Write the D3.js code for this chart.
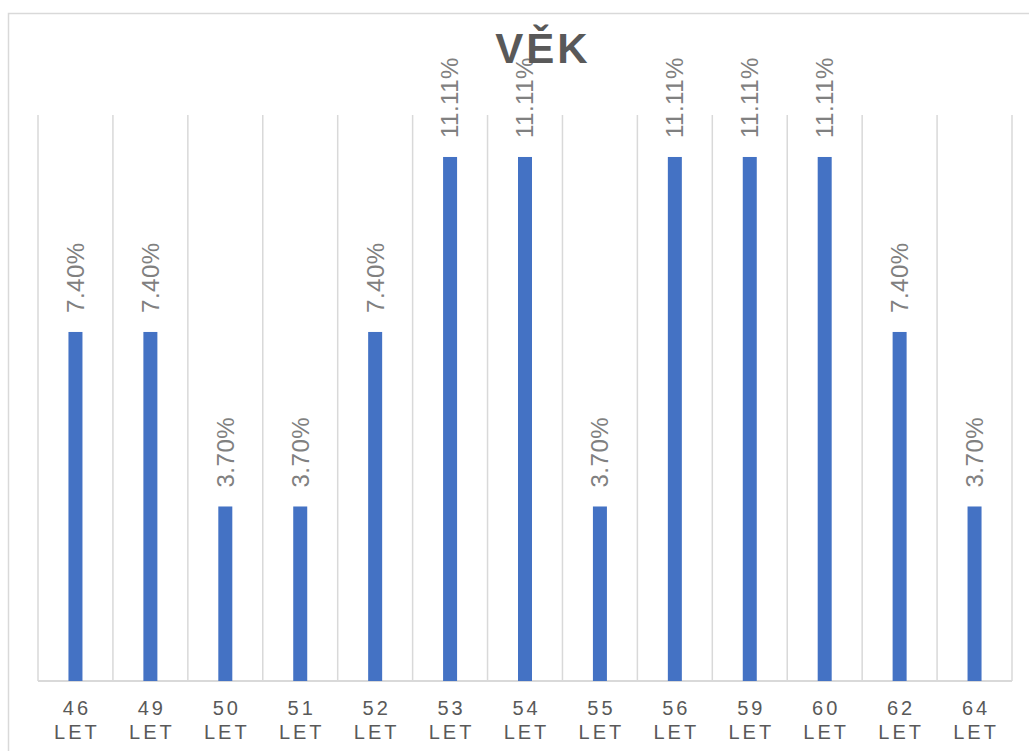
<!DOCTYPE html>
<html>
<head>
<meta charset="utf-8">
<script src="https://cdn.jsdelivr.net/npm/d3@7"></script>
<style>
  body { margin: 0; background: #fff; }
  text { font-family: "Liberation Sans", Arial, sans-serif; }
</style>
</head>
<body>
<div id="chart"></div>
<script>
// chart data
var ages = ["46", "49", "50", "51", "52", "53", "54", "55", "56", "59", "60", "62", "64"];
var shares = [0.074, 0.074, 0.037, 0.037, 0.074, 0.1111, 0.1111, 0.037, 0.1111, 0.1111, 0.1111, 0.074, 0.037];
var unitLabel = "LET";
var title = "VĚK";

var svgWidth = 1029;
var svgHeight = 751;

var margin = { top: 115, right: 17, bottom: 70, left: 38 };
var chartWidth = svgWidth - margin.left - margin.right;
var chartHeight = svgHeight - margin.top - margin.bottom;

var svg = d3.select("#chart")
  .append("svg")
  .attr("width", svgWidth)
  .attr("height", svgHeight);

// outer chart border
svg.append("rect")
  .attr("x", 8.5)
  .attr("y", 13.5)
  .attr("width", 1030)
  .attr("height", 760)
  .attr("fill", "none")
  .attr("stroke", "#d9d9d9")
  .attr("stroke-width", 1.5);

var chartGroup = svg.append("g")
  .attr("transform", `translate(${margin.left}, ${margin.top})`);

var x = d3.scaleBand()
  .domain(ages)
  .range([0, chartWidth])
  .padding(0);

var y = d3.scaleLinear()
  .domain([0, 0.12])
  .range([chartHeight, 0]);

// vertical gridlines at the category boundaries
var bounds = ages.map(function(d) { return x(d); }).concat([chartWidth]);
chartGroup.selectAll(".grid")
  .data(bounds)
  .enter()
  .append("line")
  .attr("class", "grid")
  .attr("x1", function(d) { return d; })
  .attr("x2", function(d) { return d; })
  .attr("y1", 0)
  .attr("y2", chartHeight)
  .attr("stroke", "#d9d9d9")
  .attr("stroke-width", 1.5);

// bottom axis line
chartGroup.append("line")
  .attr("x1", 0)
  .attr("x2", chartWidth)
  .attr("y1", chartHeight)
  .attr("y2", chartHeight)
  .attr("stroke", "#d9d9d9")
  .attr("stroke-width", 2);

var barWidth = 14;

chartGroup.selectAll(".bar")
  .data(shares)
  .enter()
  .append("rect")
  .attr("class", "bar")
  .attr("x", function(d, i) { return x(ages[i]) + x.bandwidth() / 2 - barWidth / 2; })
  .attr("y", function(d) { return y(d); })
  .attr("width", barWidth)
  .attr("height", function(d) { return chartHeight - y(d); })
  .attr("fill", "#4472c4");

// value labels, rotated
var fmt = d3.format(".2%");
chartGroup.selectAll(".value")
  .data(shares)
  .enter()
  .append("text")
  .attr("class", "value")
  .attr("transform", function(d, i) {
    var cx = x(ages[i]) + x.bandwidth() / 2;
    return "translate(" + cx + "," + (y(d) - 19) + ") rotate(-90)";
  })
  .attr("dy", "0.35em")
  .attr("text-anchor", "start")
  .attr("font-size", 24)
  .attr("letter-spacing", 0.5)
  .attr("fill", "#808080")
  .text(function(d) { return fmt(d); });

// category labels, two lines
var ticks = chartGroup.selectAll(".tick-label")
  .data(ages)
  .enter()
  .append("text")
  .attr("class", "tick-label")
  .attr("text-anchor", "middle")
  .attr("font-size", 20)
  .attr("letter-spacing", 3)
  .attr("fill", "#595959");

ticks.append("tspan")
  .attr("x", function(d) { return x(d) + x.bandwidth() / 2 + 1.5; })
  .attr("y", chartHeight + 34)
  .text(function(d) { return d; });

ticks.append("tspan")
  .attr("x", function(d) { return x(d) + x.bandwidth() / 2 + 1.5; })
  .attr("y", chartHeight + 58)
  .text(unitLabel);

// title
svg.append("text")
  .attr("x", 543)
  .attr("y", 63)
  .attr("text-anchor", "middle")
  .attr("font-size", 42)
  .attr("font-weight", "bold")
  .attr("letter-spacing", 3)
  .attr("fill", "#595959")
  .text(title);
</script>
</body>
</html>
